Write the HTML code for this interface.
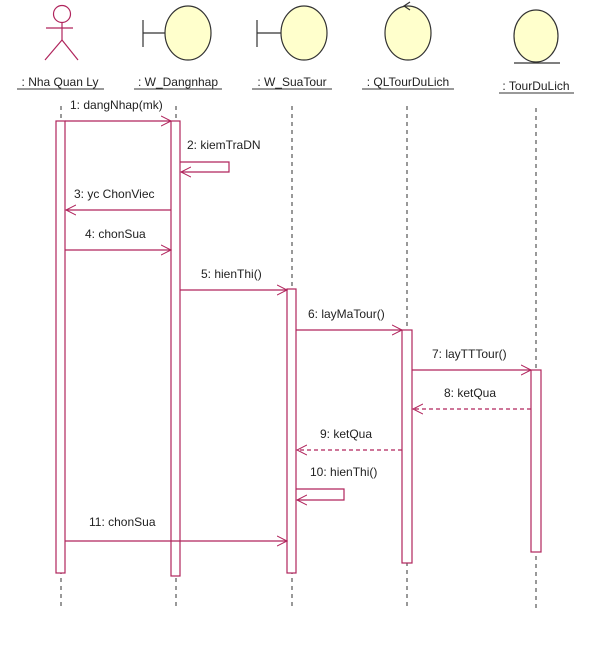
<!DOCTYPE html>
<html><head><meta charset="utf-8"><style>
html,body{margin:0;padding:0;background:#fff;}
svg text{font-family:"Liberation Sans",sans-serif;font-size:12px;fill:#222;}
</style></head><body>
<svg width="606" height="654" viewBox="0 0 606 654" xmlns="http://www.w3.org/2000/svg">
<defs>
<marker id="a" markerWidth="12" markerHeight="12" refX="10" refY="6" orient="auto" markerUnits="userSpaceOnUse">
<path d="M0,1 L10,6 L0,11" fill="none" stroke="#b0245c" stroke-width="1"/></marker>
</defs>
<g stroke="#b0245c" stroke-width="1.2" fill="none">
<circle cx="62" cy="14" r="8.5"/>
<line x1="62" y1="22" x2="62" y2="40"/>
<line x1="46" y1="28" x2="73" y2="28"/>
<line x1="62" y1="40" x2="45" y2="60"/>
<line x1="62" y1="40" x2="78" y2="60"/>
</g>
<g stroke="#333" stroke-width="1.2" fill="#ffffcc">
<line x1="143" y1="20" x2="143" y2="47"/><line x1="143" y1="33" x2="165" y2="33"/>
<ellipse cx="188" cy="33" rx="23" ry="27"/>
<line x1="257" y1="20" x2="257" y2="47"/><line x1="257" y1="33" x2="281" y2="33"/>
<ellipse cx="304" cy="33" rx="23" ry="27"/>
<ellipse cx="408" cy="33" rx="23" ry="27"/>
<path d="M410,2 L404,6 L410,10" fill="none"/>
<ellipse cx="536" cy="36" rx="22" ry="26"/>
<line x1="514" y1="63" x2="560" y2="63"/>
</g>
<g text-anchor="middle">
<text x="60" y="86">: Nha Quan Ly</text>
<text x="178" y="86">: W_Dangnhap</text>
<text x="292" y="86">: W_SuaTour</text>
<text x="408" y="86">: QLTourDuLich</text>
<text x="536" y="90">: TourDuLich</text>
</g>
<g stroke="#333" stroke-width="1">
<line x1="17" y1="89" x2="104" y2="89"/>
<line x1="134" y1="89" x2="222" y2="89"/>
<line x1="252" y1="89" x2="332" y2="89"/>
<line x1="362" y1="89" x2="454" y2="89"/>
<line x1="499" y1="93" x2="574" y2="93"/>
</g>
<g stroke="#333" stroke-width="1" stroke-dasharray="4,4">
<line x1="61" y1="106" x2="61" y2="610"/>
<line x1="176" y1="106" x2="176" y2="610"/>
<line x1="292" y1="106" x2="292" y2="610"/>
<line x1="407" y1="106" x2="407" y2="610"/>
<line x1="536" y1="108" x2="536" y2="610"/>
</g>
<g stroke="#b0245c" stroke-width="1.2" fill="#fff">
<rect x="56" y="121" width="9" height="452"/>
<rect x="171" y="121" width="9" height="455"/>
<rect x="287" y="289" width="9" height="284"/>
<rect x="402" y="330" width="10" height="233"/>
<rect x="531" y="370" width="10" height="182"/>
</g>
<g stroke="#b0245c" stroke-width="1.2" fill="none">
<line x1="65" y1="121" x2="171" y2="121" marker-end="url(#a)"/>
<path d="M180,162 H229 V172 H181" marker-end="url(#a)"/>
<line x1="171" y1="210" x2="66" y2="210" marker-end="url(#a)"/>
<line x1="65" y1="250" x2="171" y2="250" marker-end="url(#a)"/>
<line x1="180" y1="290" x2="287" y2="290" marker-end="url(#a)"/>
<line x1="296" y1="330" x2="402" y2="330" marker-end="url(#a)"/>
<line x1="412" y1="370" x2="531" y2="370" marker-end="url(#a)"/>
<line x1="531" y1="409" x2="413" y2="409" stroke-dasharray="4,3" marker-end="url(#a)"/>
<line x1="402" y1="450" x2="297" y2="450" stroke-dasharray="4,3" marker-end="url(#a)"/>
<path d="M296,489 H344 V500 H297" marker-end="url(#a)"/>
<line x1="65" y1="541" x2="287" y2="541" marker-end="url(#a)"/>
</g>
<text x="70" y="109">1: dangNhap(mk)</text>
<text x="187" y="149">2: kiemTraDN</text>
<text x="74" y="198">3: yc ChonViec</text>
<text x="85" y="238">4: chonSua</text>
<text x="201" y="278">5: hienThi()</text>
<text x="308" y="318">6: layMaTour()</text>
<text x="432" y="358">7: layTTTour()</text>
<text x="444" y="397">8: ketQua</text>
<text x="320" y="438">9: ketQua</text>
<text x="310" y="476">10: hienThi()</text>
<text x="89" y="526">11: chonSua</text>
</svg>
</body></html>
